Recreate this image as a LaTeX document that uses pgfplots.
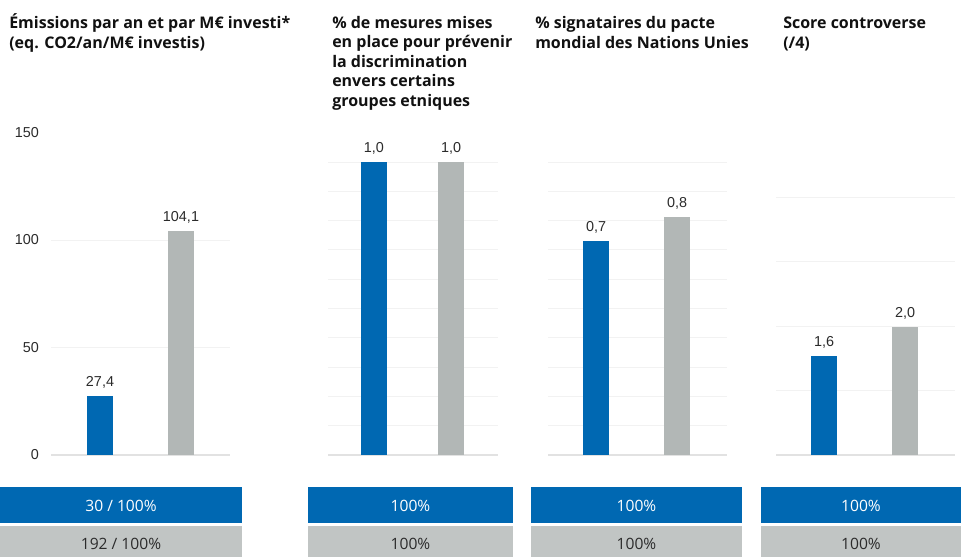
\documentclass[border=0pt]{standalone}
\usepackage{fontspec}
\setmainfont{Open Sans}
\newfontfamily\arialf{Liberation Sans}
\usepackage{pgfplots}
\pgfplotsset{compat=1.18}
\definecolor{cblue}{HTML}{0068B2}
\definecolor{cgray}{HTML}{B2B7B6}
\definecolor{cbox}{HTML}{C1C5C4}
\definecolor{cgrid}{HTML}{F2F2F2}
\definecolor{cbase}{HTML}{E2E2E2}
\definecolor{ctxt}{HTML}{2B2B2B}
\definecolor{ctitle}{HTML}{111111}
\pgfplotsset{
  panel/.style={
    scale only axis,
    anchor=origin,
    enlargelimits=false,
    ymin=0,
    xtick=\empty,
    axis x line*=bottom,
    axis y line*=left,
    x axis line style={draw=cbase,-,line width=0.8pt},
    y axis line style={draw=none},
    major tick length=0pt,
    ymajorgrids,
    grid style={draw=cgrid,line width=0.7pt},
    ybar,
    bar width=0.32,
    /pgf/number format/assume math mode=true,
    yticklabel style={font=\arialf\fontsize{10.8}{12}\selectfont,text=ctxt,xshift=-5.5pt},
    point meta=explicit symbolic,
    nodes near coords,
    nodes near coords style={font=\arialf\fontsize{10.8}{12}\selectfont,text=ctxt,anchor=base,yshift=7pt,inner sep=0pt},
  },
  bblue/.style={fill=cblue,draw=none,bar shift=0pt},
  bgray/.style={fill=cgray,draw=none,bar shift=0pt},
}
\begin{document}
\begin{tikzpicture}[x=0.75pt,y=0.75pt]
\path[use as bounding box] (0,0) rectangle (961,557);

% Panel 1
\begin{axis}[panel, at={(38.25pt,76.5pt)}, width=134.25pt, height=241.875pt,
  xmin=0.395, xmax=2.605, ymax=150,
  ytick={0,50,100}, extra y ticks={150}, extra tick style={grid=none}]
\addplot[bblue] coordinates {(1,27.4) [27{,}4]};
\addplot[bgray] coordinates {(2,104.1) [104{,}1]};
\end{axis}

% Panel 2
\begin{axis}[panel, at={(246pt,76.5pt)}, width=127.5pt, height=219.75pt,
  xmin=0.403, xmax=2.61, ymax=1, bar width=0.338,
  ytick={0,0.1,...,1.01}, yticklabels={}]
\addplot[bblue] coordinates {(1,1.0) [1{,}0]};
\addplot[bgray] coordinates {(2,1.0) [1{,}0]};
\end{axis}

% Panel 3
\begin{axis}[panel, at={(411pt,76.5pt)}, width=134.25pt, height=219.75pt,
  xmin=0.407, xmax=2.617, ymax=1,
  ytick={0,0.1,...,1.01}, yticklabels={}]
\addplot[bblue] coordinates {(1,0.730) [0{,}7]};
\addplot[bgray] coordinates {(2,0.812) [0{,}8]};
\end{axis}

% Panel 4
\begin{axis}[panel, at={(582pt,76.5pt)}, width=134.25pt, height=193.5pt,
  xmin=0.407, xmax=2.617, ymax=4,
  ytick={0,1,2,3,4}, yticklabels={}]
\addplot[bblue] coordinates {(1,1.54) [1{,}6]};
\addplot[bgray] coordinates {(2,1.99) [2{,}0]};
\end{axis}

% Titles
\begin{scope}[every node/.style={anchor=base west,inner sep=0pt,text=ctitle,font=\bfseries\fontsize{12}{14.5}\selectfont}]
\node at (9,528.5) {Émissions par an et par M€ investi*};
\node at (9,508.5) {(eq. CO2/an/M€ investis)};
\node at (332,528.5) {\% de mesures mises};
\node at (332,509) {en place pour prévenir};
\node at (332,489.5) {la discrimination};
\node at (332,470) {envers certains};
\node at (332,450.5) {groupes etniques};
\node at (535,528.5) {\% signataires du pacte};
\node at (535,508.5) {mondial des Nations Unies};
\node at (783,528.5) {Score controverse};
\node at (783,508.5) {(/4)};
\end{scope}

% Bottom boxes
\begin{scope}[every node/.style={font=\fontsize{11.7}{13}\selectfont,inner sep=0pt}]
\fill[cblue] (0,34) rectangle (242,70);
\fill[cbox] (0,0) rectangle (242,31);
\node[text=white] at (121,51.5) {30 / 100\%};
\node[text=ctxt] at (121,13.5) {192 / 100\%};
\fill[cblue] (308,34) rectangle (513,70);
\fill[cbox] (308,0) rectangle (513,31);
\node[text=white] at (410.5,51.5) {100\%};
\node[text=ctxt] at (410.5,13.5) {100\%};
\fill[cblue] (531,34) rectangle (742,70);
\fill[cbox] (531,0) rectangle (742,31);
\node[text=white] at (636.5,51.5) {100\%};
\node[text=ctxt] at (636.5,13.5) {100\%};
\fill[cblue] (761,34) rectangle (961,70);
\fill[cbox] (761,0) rectangle (961,31);
\node[text=white] at (861,51.5) {100\%};
\node[text=ctxt] at (861,13.5) {100\%};
\end{scope}
\end{tikzpicture}
\end{document}
